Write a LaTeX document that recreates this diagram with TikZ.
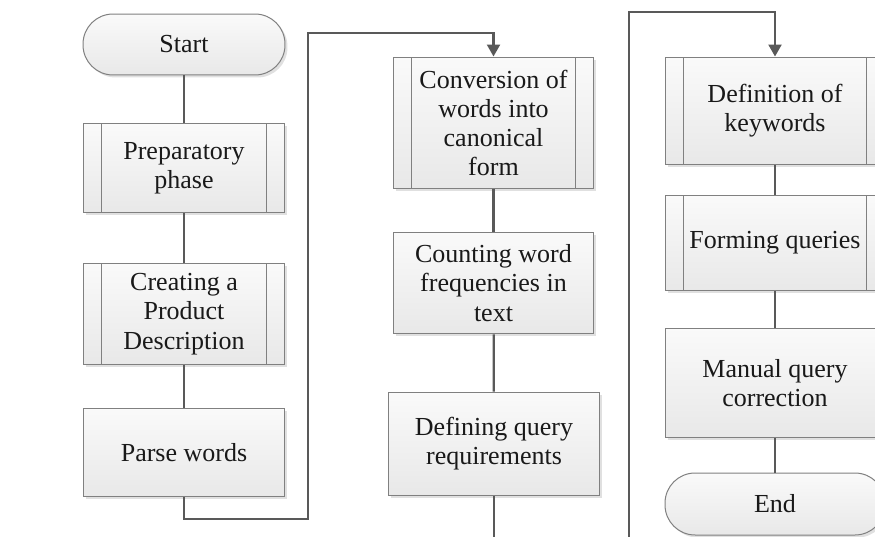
\documentclass[tikz,border=0pt]{standalone}
\usepackage{fontspec}
\setmainfont{Liberation Serif}
\usetikzlibrary{arrows.meta,shadows}

\tikzset{
  box/.style={rectangle, draw=black!50, line width=0.2mm,
    top color=black!2, bottom color=black!9,
    drop shadow={shadow xshift=0.5mm, shadow yshift=-0.5mm, fill=black, opacity=0.12},
    align=center, inner sep=0pt, text=black!90,
    font=\fontsize{14.8}{16.6}\selectfont},
  predef/.style={box, path picture={
    \draw[black!50, line width=0.2mm]
      ([xshift=3.6mm]path picture bounding box.north west) -- ([xshift=3.6mm]path picture bounding box.south west)
      ([xshift=-3.6mm]path picture bounding box.north east) -- ([xshift=-3.6mm]path picture bounding box.south east);}},
  term/.style={box, rounded corners=6mm},
  flow/.style={draw=black!65, line width=0.45mm},
  arrowed/.style={-{Triangle[width=2.6mm,length=2.4mm]}}
}

\begin{document}
\begin{tikzpicture}[x=0.02cm, y=-0.02cm]
		%%%%% START %%%%%
		\useasboundingbox (0, 0) rectangle (875, 537);
		
		% first column
		\node[term, minimum width=4.04cm, minimum height=1.22cm] (start) at (184, 44.5) {Start};
		\node[predef, minimum width=4.04cm, minimum height=1.8cm] (prep) at (184, 168) {Preparatory\\phase};
		\node[predef, minimum width=4.04cm, minimum height=2.04cm] (descr) at (184, 314) {Creating a\\Product\\Description};
		\node[box, minimum width=4.04cm, minimum height=1.78cm] (parse) at (184, 452.5) {Parse words};
		
		% second column
		\node[predef, minimum width=4.02cm, minimum height=2.64cm] (canon) at (493.5, 123) {Conversion of\\words into\\canonical\\form};
		\node[box, minimum width=4.02cm, minimum height=2.04cm] (count) at (493.5, 283) {Counting word\\frequencies in\\text};
		\node[box, minimum width=4.24cm, minimum height=2.08cm] (reqs) at (494, 444) {Defining query\\requirements};
		
		% third column
		\node[predef, minimum width=4.4cm, minimum height=2.16cm] (keys) at (775, 111) {Definition of\\keywords};
		\node[predef, minimum width=4.4cm, minimum height=1.92cm] (forming) at (775, 243) {Forming queries};
		\node[box, minimum width=4.4cm, minimum height=2.2cm] (manual) at (775, 383) {Manual query\\correction};
		\node[term, minimum width=4.4cm, minimum height=1.24cm] (stop) at (775, 504) {End};
		
		% bends and cut ends
		\coordinate (low1) at (308, 519);
		\coordinate (up1) at (308, 33);
		\coordinate (cut2) at (494, 537);
		\coordinate (cut3) at (629, 537);
		\coordinate (up3) at (629, 12);
		
		\draw[flow] (start) -- (prep);
		\draw[flow] (prep) -- (descr);
		\draw[flow] (descr) -- (parse);
		\draw[flow, arrowed] (parse.south) |- (low1) -- (up1) -| (canon.north);
		
		\draw[flow] (canon) -- (count);
		\draw[flow] (count) -- (reqs);
		\draw[flow] (reqs.south) -- (cut2);
		
		\draw[flow, arrowed] (cut3) -- (up3) -| (keys.north);
		\draw[flow] (keys) -- (forming);
		\draw[flow] (forming) -- (manual);
		\draw[flow] (manual) -- (stop);
		%%%%% END %%%%%
\end{tikzpicture}
\end{document}
